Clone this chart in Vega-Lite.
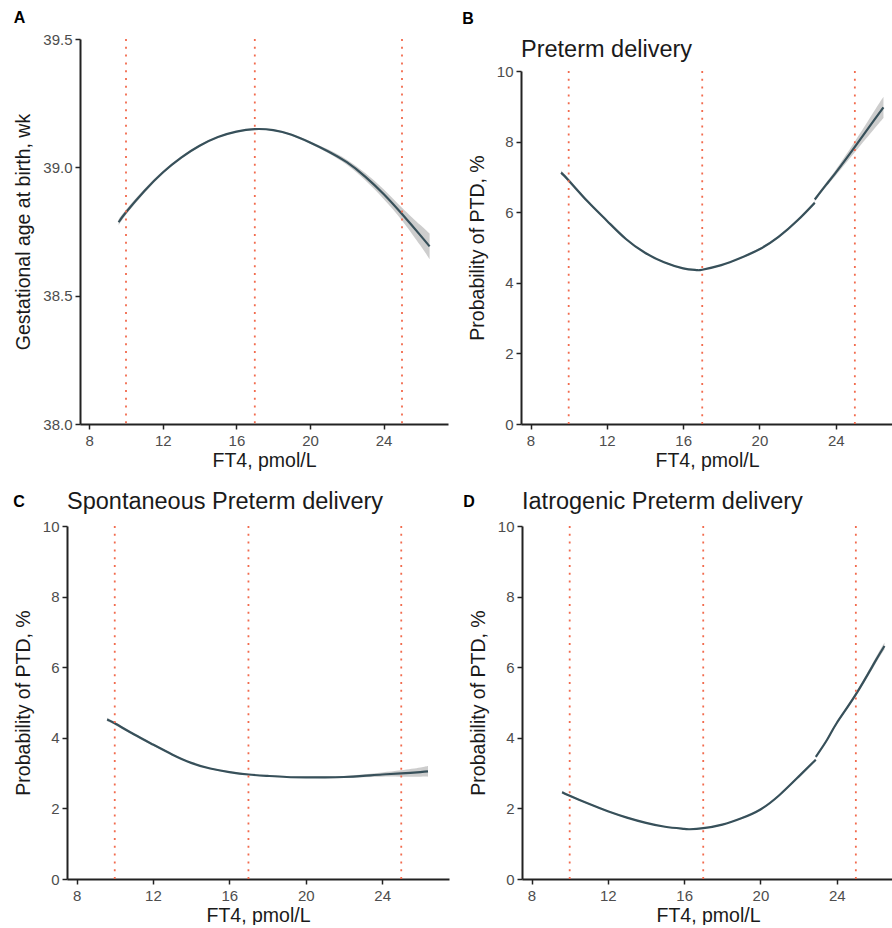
{
  "$schema": "https://vega.github.io/schema/vega-lite/v6.json",
  "padding": {"left": 12, "top": 9, "right": 0, "bottom": 0},
  "background": "white",
  "config": {
    "font": "Liberation Sans",
    "view": {"stroke": null},
    "axis": {
      "grid": false,
      "domainColor": "#222222",
      "domainWidth": 2,
      "tickColor": "#222222",
      "tickWidth": 1.5,
      "tickSize": 5,
      "labelFontSize": 15,
      "labelColor": "#4D4D4D",
      "labelPadding": 3,
      "titleFontSize": 19.5,
      "titleFontWeight": "normal",
      "titleColor": "#1A1A1A"
    },
    "axisX": {"labelPadding": 4, "titlePadding": 3},
    "axisY": {"titlePadding": 9}
  },
  "datasets": {
    "none": [],
    "ref": [{"x": 10}, {"x": 17}, {"x": 25}],
    "A": [
      {"ft4": 9.6, "fit": 38.786, "lo": 38.774, "hi": 38.798},
      {"ft4": 10, "fit": 38.825, "lo": 38.815, "hi": 38.835},
      {"ft4": 11, "fit": 38.908, "lo": 38.9, "hi": 38.916},
      {"ft4": 12, "fit": 38.98, "lo": 38.974, "hi": 38.986},
      {"ft4": 13, "fit": 39.038, "lo": 39.033, "hi": 39.043},
      {"ft4": 14, "fit": 39.084, "lo": 39.08, "hi": 39.088},
      {"ft4": 15, "fit": 39.118, "lo": 39.115, "hi": 39.121},
      {"ft4": 16, "fit": 39.139, "lo": 39.136, "hi": 39.142},
      {"ft4": 17, "fit": 39.149, "lo": 39.146, "hi": 39.152},
      {"ft4": 18, "fit": 39.145, "lo": 39.142, "hi": 39.148},
      {"ft4": 19, "fit": 39.127, "lo": 39.123, "hi": 39.131},
      {"ft4": 20, "fit": 39.097, "lo": 39.092, "hi": 39.102},
      {"ft4": 21, "fit": 39.062, "lo": 39.055, "hi": 39.069},
      {"ft4": 22, "fit": 39.02, "lo": 39.01, "hi": 39.03},
      {"ft4": 23, "fit": 38.964, "lo": 38.95, "hi": 38.978},
      {"ft4": 24, "fit": 38.896, "lo": 38.877, "hi": 38.915},
      {"ft4": 25, "fit": 38.818, "lo": 38.793, "hi": 38.843},
      {"ft4": 26, "fit": 38.735, "lo": 38.695, "hi": 38.775},
      {"ft4": 26.5, "fit": 38.692, "lo": 38.642, "hi": 38.742}
    ],
    "B": [
      {"seg": 1, "ft4": 9.6, "fit": 7.12, "lo": 7.06, "hi": 7.18},
      {"seg": 1, "ft4": 10, "fit": 6.9, "lo": 6.85, "hi": 6.95},
      {"seg": 1, "ft4": 11, "fit": 6.3, "lo": 6.26, "hi": 6.34},
      {"seg": 1, "ft4": 12, "fit": 5.76, "lo": 5.73, "hi": 5.79},
      {"seg": 1, "ft4": 13, "fit": 5.24, "lo": 5.21, "hi": 5.27},
      {"seg": 1, "ft4": 14, "fit": 4.85, "lo": 4.83, "hi": 4.87},
      {"seg": 1, "ft4": 15, "fit": 4.58, "lo": 4.56, "hi": 4.6},
      {"seg": 1, "ft4": 16, "fit": 4.41, "lo": 4.39, "hi": 4.43},
      {"seg": 1, "ft4": 16.7, "fit": 4.36, "lo": 4.34, "hi": 4.38},
      {"seg": 1, "ft4": 17, "fit": 4.37, "lo": 4.35, "hi": 4.39},
      {"seg": 1, "ft4": 18, "fit": 4.5, "lo": 4.48, "hi": 4.52},
      {"seg": 1, "ft4": 19, "fit": 4.7, "lo": 4.68, "hi": 4.72},
      {"seg": 1, "ft4": 20, "fit": 4.95, "lo": 4.92, "hi": 4.98},
      {"seg": 1, "ft4": 21, "fit": 5.3, "lo": 5.27, "hi": 5.33},
      {"seg": 1, "ft4": 22, "fit": 5.77, "lo": 5.73, "hi": 5.81},
      {"seg": 1, "ft4": 22.9, "fit": 6.27, "lo": 6.22, "hi": 6.32},
      {"seg": 2, "ft4": 22.9, "fit": 6.36, "lo": 6.31, "hi": 6.41},
      {"seg": 2, "ft4": 23.5, "fit": 6.78, "lo": 6.72, "hi": 6.84},
      {"seg": 2, "ft4": 24, "fit": 7.12, "lo": 7.04, "hi": 7.2},
      {"seg": 2, "ft4": 25, "fit": 7.85, "lo": 7.7, "hi": 8.0},
      {"seg": 2, "ft4": 26, "fit": 8.6, "lo": 8.35, "hi": 8.85},
      {"seg": 2, "ft4": 26.5, "fit": 8.97, "lo": 8.67, "hi": 9.27}
    ],
    "C": [
      {"ft4": 9.6, "fit": 4.52, "lo": 4.47, "hi": 4.57},
      {"ft4": 10, "fit": 4.41, "lo": 4.37, "hi": 4.45},
      {"ft4": 11, "fit": 4.1, "lo": 4.065, "hi": 4.135},
      {"ft4": 12, "fit": 3.81, "lo": 3.78, "hi": 3.84},
      {"ft4": 13, "fit": 3.53, "lo": 3.505, "hi": 3.555},
      {"ft4": 14, "fit": 3.29, "lo": 3.27, "hi": 3.31},
      {"ft4": 15, "fit": 3.13, "lo": 3.11, "hi": 3.15},
      {"ft4": 16, "fit": 3.03, "lo": 3.01, "hi": 3.05},
      {"ft4": 17, "fit": 2.96, "lo": 2.94, "hi": 2.98},
      {"ft4": 18, "fit": 2.92, "lo": 2.9, "hi": 2.94},
      {"ft4": 19, "fit": 2.89, "lo": 2.87, "hi": 2.91},
      {"ft4": 20, "fit": 2.88, "lo": 2.86, "hi": 2.9},
      {"ft4": 21, "fit": 2.88, "lo": 2.855, "hi": 2.905},
      {"ft4": 22, "fit": 2.89, "lo": 2.86, "hi": 2.92},
      {"ft4": 23, "fit": 2.92, "lo": 2.88, "hi": 2.96},
      {"ft4": 24, "fit": 2.96, "lo": 2.9, "hi": 3.02},
      {"ft4": 25, "fit": 2.99, "lo": 2.9, "hi": 3.08},
      {"ft4": 26, "fit": 3.03, "lo": 2.9, "hi": 3.16},
      {"ft4": 26.4, "fit": 3.05, "lo": 2.9, "hi": 3.2}
    ],
    "D": [
      {"seg": 1, "ft4": 9.6, "fit": 2.46, "lo": 2.42, "hi": 2.5},
      {"seg": 1, "ft4": 10, "fit": 2.36, "lo": 2.33, "hi": 2.39},
      {"seg": 1, "ft4": 11, "fit": 2.13, "lo": 2.11, "hi": 2.15},
      {"seg": 1, "ft4": 12, "fit": 1.92, "lo": 1.9, "hi": 1.94},
      {"seg": 1, "ft4": 13, "fit": 1.74, "lo": 1.72, "hi": 1.76},
      {"seg": 1, "ft4": 14, "fit": 1.59, "lo": 1.575, "hi": 1.605},
      {"seg": 1, "ft4": 15, "fit": 1.48, "lo": 1.465, "hi": 1.495},
      {"seg": 1, "ft4": 16, "fit": 1.42, "lo": 1.405, "hi": 1.435},
      {"seg": 1, "ft4": 16.3, "fit": 1.41, "lo": 1.395, "hi": 1.425},
      {"seg": 1, "ft4": 17, "fit": 1.44, "lo": 1.425, "hi": 1.455},
      {"seg": 1, "ft4": 18, "fit": 1.54, "lo": 1.525, "hi": 1.555},
      {"seg": 1, "ft4": 19, "fit": 1.72, "lo": 1.7, "hi": 1.74},
      {"seg": 1, "ft4": 20, "fit": 1.97, "lo": 1.95, "hi": 1.99},
      {"seg": 1, "ft4": 21, "fit": 2.38, "lo": 2.36, "hi": 2.4},
      {"seg": 1, "ft4": 22, "fit": 2.9, "lo": 2.87, "hi": 2.93},
      {"seg": 1, "ft4": 22.9, "fit": 3.38, "lo": 3.35, "hi": 3.41},
      {"seg": 2, "ft4": 22.9, "fit": 3.46, "lo": 3.43, "hi": 3.49},
      {"seg": 2, "ft4": 23.5, "fit": 3.95, "lo": 3.92, "hi": 3.98},
      {"seg": 2, "ft4": 24, "fit": 4.42, "lo": 4.38, "hi": 4.46},
      {"seg": 2, "ft4": 25, "fit": 5.23, "lo": 5.18, "hi": 5.28},
      {"seg": 2, "ft4": 26, "fit": 6.15, "lo": 6.07, "hi": 6.23},
      {"seg": 2, "ft4": 26.5, "fit": 6.6, "lo": 6.5, "hi": 6.7}
    ]
  },
  "columns": 2,
  "align": "none",
  "spacing": {"row": 18, "column": 0},
  "concat": [
    {"data": {"name": "none"}, "mark": "point", "width": 1, "height": 1},
    {
      "columns": 2,
      "align": "none",
      "spacing": {"row": 0, "column": 14},
      "concat": [
        {"data": {"name": "none"}, "mark": "point", "width": 1, "height": 1},
        {"data": {"name": "none"}, "mark": "point", "width": 1, "height": 1},
        {
          "title": {"text": "A", "anchor": "start", "frame": "bounds", "fontSize": 16, "fontWeight": "bold", "color": "#000000", "offset": 6},
          "vconcat": [
            {
              "width": 368,
              "height": 385,
              "layer": [
                {
                  "data": {"name": "A"},
                  "mark": {"type": "area", "color": "#C4C4C4", "opacity": 0.85, "interpolate": "natural"},
                  "encoding": {
                    "x": {"field": "ft4", "type": "quantitative", "scale": {"domain": [7.5, 27.5], "nice": false, "zero": false}, "axis": {"values": [8, 12, 16, 20, 24], "title": "FT4, pmol/L"}},
                    "y": {"field": "lo", "type": "quantitative", "scale": {"domain": [38, 39.5], "nice": false, "zero": false}, "axis": {"values": [38, 38.5, 39, 39.5], "format": ".1f", "title": "Gestational age at birth, wk"}},
                    "y2": {"field": "hi"}
                  }
                },
                {
                  "data": {"name": "A"},
                  "mark": {"type": "line", "color": "#37505A", "strokeWidth": 2.2, "interpolate": "natural"},
                  "encoding": {
                    "x": {"field": "ft4", "type": "quantitative"},
                    "y": {"field": "fit", "type": "quantitative"}
                  }
                },
                {
                  "data": {"name": "ref"},
                  "mark": {"type": "rule", "color": "#F26B4E", "strokeDash": [2, 5.8], "strokeWidth": 1.8},
                  "encoding": {"x": {"field": "x", "type": "quantitative"}}
                }
              ]
            }
          ]
        },
        {
          "title": {"text": "B", "anchor": "start", "frame": "bounds", "fontSize": 16, "fontWeight": "bold", "color": "#000000", "offset": 11, "dx": -5},
          "vconcat": [
            {
              "width": 372,
              "height": 353,
              "title": {"text": "Preterm delivery", "anchor": "start", "frame": "group", "fontSize": 23.5, "fontWeight": "normal", "color": "#1A1A1A", "offset": 3},
              "layer": [
                {
                  "data": {"name": "B"},
                  "mark": {"type": "area", "color": "#C4C4C4", "opacity": 0.85, "interpolate": "natural"},
                  "encoding": {
                    "x": {"field": "ft4", "type": "quantitative", "scale": {"domain": [7.5, 27], "nice": false, "zero": false}, "axis": {"values": [8, 12, 16, 20, 24], "title": "FT4, pmol/L"}},
                    "y": {"field": "lo", "type": "quantitative", "scale": {"domain": [0, 10], "nice": false}, "axis": {"values": [0, 2, 4, 6, 8, 10], "title": "Probability of PTD, %"}},
                    "y2": {"field": "hi"},
                    "detail": {"field": "seg"}
                  }
                },
                {
                  "data": {"name": "B"},
                  "mark": {"type": "line", "color": "#37505A", "strokeWidth": 2.2, "interpolate": "natural"},
                  "encoding": {
                    "x": {"field": "ft4", "type": "quantitative"},
                    "y": {"field": "fit", "type": "quantitative"},
                    "detail": {"field": "seg"}
                  }
                },
                {
                  "data": {"name": "ref"},
                  "mark": {"type": "rule", "color": "#F26B4E", "strokeDash": [2, 5.8], "strokeWidth": 1.8},
                  "encoding": {"x": {"field": "x", "type": "quantitative"}}
                }
              ]
            }
          ]
        }
      ]
    },
    {"data": {"name": "none"}, "mark": "point", "width": 1, "height": 1},
    {
      "columns": 2,
      "align": "none",
      "spacing": {"row": 0, "column": 14},
      "concat": [
        {"data": {"name": "none"}, "mark": "point", "width": 1, "height": 1},
        {"data": {"name": "none"}, "mark": "point", "width": 1, "height": 1},
        {
          "title": {"text": "C", "anchor": "start", "frame": "bounds", "fontSize": 16, "fontWeight": "bold", "color": "#000000", "offset": -20},
          "vconcat": [
            {
              "width": 382,
              "height": 353,
              "title": {"text": "Spontaneous Preterm delivery", "anchor": "start", "frame": "group", "fontSize": 23.5, "fontWeight": "normal", "color": "#1A1A1A", "offset": 6},
              "layer": [
                {
                  "data": {"name": "C"},
                  "mark": {"type": "area", "color": "#C4C4C4", "opacity": 0.85, "interpolate": "natural"},
                  "encoding": {
                    "x": {"field": "ft4", "type": "quantitative", "scale": {"domain": [7.5, 27.5], "nice": false, "zero": false}, "axis": {"values": [8, 12, 16, 20, 24], "title": "FT4, pmol/L"}},
                    "y": {"field": "lo", "type": "quantitative", "scale": {"domain": [0, 10], "nice": false}, "axis": {"values": [0, 2, 4, 6, 8, 10], "title": "Probability of PTD, %"}},
                    "y2": {"field": "hi"}
                  }
                },
                {
                  "data": {"name": "C"},
                  "mark": {"type": "line", "color": "#37505A", "strokeWidth": 2.2, "interpolate": "natural"},
                  "encoding": {
                    "x": {"field": "ft4", "type": "quantitative"},
                    "y": {"field": "fit", "type": "quantitative"}
                  }
                },
                {
                  "data": {"name": "ref"},
                  "mark": {"type": "rule", "color": "#F26B4E", "strokeDash": [2, 5.8], "strokeWidth": 1.8},
                  "encoding": {"x": {"field": "x", "type": "quantitative"}}
                }
              ]
            }
          ]
        },
        {
          "title": {"text": "D", "anchor": "start", "frame": "bounds", "fontSize": 16, "fontWeight": "bold", "color": "#000000", "offset": -20, "dx": -5},
          "vconcat": [
            {
              "width": 372,
              "height": 353,
              "title": {"text": "Iatrogenic Preterm delivery", "anchor": "start", "frame": "group", "fontSize": 23.5, "fontWeight": "normal", "color": "#1A1A1A", "offset": 6},
              "layer": [
                {
                  "data": {"name": "D"},
                  "mark": {"type": "area", "color": "#C4C4C4", "opacity": 0.85, "interpolate": "natural"},
                  "encoding": {
                    "x": {"field": "ft4", "type": "quantitative", "scale": {"domain": [7.5, 27], "nice": false, "zero": false}, "axis": {"values": [8, 12, 16, 20, 24], "title": "FT4, pmol/L"}},
                    "y": {"field": "lo", "type": "quantitative", "scale": {"domain": [0, 10], "nice": false}, "axis": {"values": [0, 2, 4, 6, 8, 10], "title": "Probability of PTD, %"}},
                    "y2": {"field": "hi"},
                    "detail": {"field": "seg"}
                  }
                },
                {
                  "data": {"name": "D"},
                  "mark": {"type": "line", "color": "#37505A", "strokeWidth": 2.2, "interpolate": "natural"},
                  "encoding": {
                    "x": {"field": "ft4", "type": "quantitative"},
                    "y": {"field": "fit", "type": "quantitative"},
                    "detail": {"field": "seg"}
                  }
                },
                {
                  "data": {"name": "ref"},
                  "mark": {"type": "rule", "color": "#F26B4E", "strokeDash": [2, 5.8], "strokeWidth": 1.8},
                  "encoding": {"x": {"field": "x", "type": "quantitative"}}
                }
              ]
            }
          ]
        }
      ]
    }
  ]
}
